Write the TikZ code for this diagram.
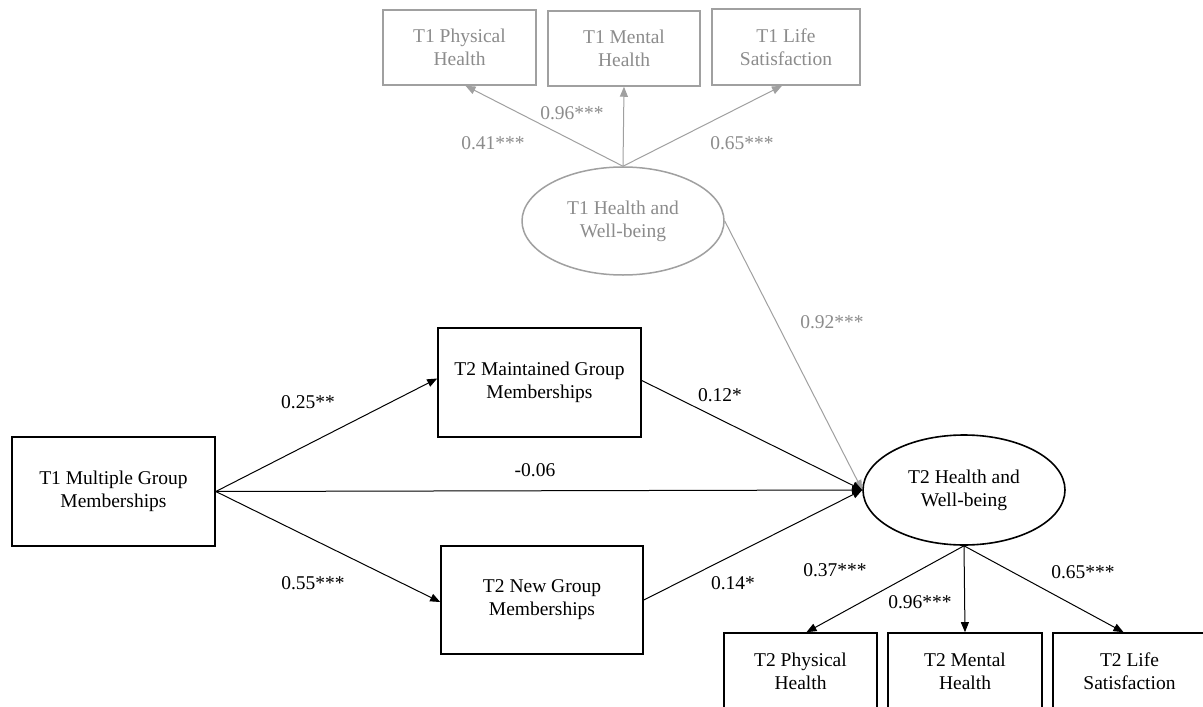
\documentclass[tikz,border=0pt]{standalone}
\usepackage{fontspec}
\setmainfont{Liberation Serif}
\usetikzlibrary{arrows.meta,shapes.geometric}
\definecolor{lgray}{HTML}{8C8C8C}
\definecolor{lline}{HTML}{A0A0A0}
\tikzset{
  box/.style={draw=black, line width=1.6pt, rectangle, align=center, inner sep=2pt},
  gbox/.style={draw=lline, line width=1.5pt, rectangle, align=center, text=lgray, inner sep=2pt},
  ell/.style={draw=black, line width=1.6pt, ellipse, align=center, inner sep=0pt},
  gell/.style={draw=lline, line width=1.5pt, ellipse, align=center, text=lgray, inner sep=0pt},
  conn/.style={draw=black, line width=1pt, -{Triangle[length=10pt,width=8pt]}},
  gconn/.style={draw=lline, line width=1pt, -{Triangle[length=10pt,width=8pt]}},
  lab/.style={inner sep=0pt, text=black},
  glab/.style={inner sep=0pt, text=lgray},
}
\begin{document}
\begin{tikzpicture}[x=1pt,y=-1pt,font=\fontsize{19.5}{23}\selectfont]
\clip (0,0) rectangle (1203,707);
\fill[white] (0,0) rectangle (1203,707);
% T1 block (gray)
\node[gbox, minimum width=153pt, minimum height=75pt] (p1) at (459.5,47.5) {T1 Physical\\Health};
\node[gbox, minimum width=152pt, minimum height=75pt] (mh1) at (624,48.5) {T1 Mental\\Health};
\node[gbox, minimum width=148pt, minimum height=76pt] (ls1) at (786,47) {T1 Life\\Satisfaction};
\node[gell, minimum width=202pt, minimum height=108pt] (t1) at (623,221) {T1 Health and\\Well-being};
% main nodes
\node[box, minimum width=203pt, minimum height=109pt] (m1) at (113.5,491.5) {T1 Multiple Group\\Memberships};
\node[box, minimum width=203pt, minimum height=109pt] (mg) at (539.5,382.5) {T2 Maintained Group\\Memberships};
\node[box, minimum width=202pt, minimum height=108pt] (ng) at (542,600) {T2 New Group\\Memberships};
\node[ell, minimum width=202pt, minimum height=110pt] (t2) at (964,490) {T2 Health and\\Well-being};
\node[box, minimum width=153pt, minimum height=76pt] (p2) at (800.5,671) {T2 Physical\\Health};
\node[box, minimum width=154pt, minimum height=76pt] (mh2) at (965,671) {T2 Mental\\Health};
\node[box, minimum width=153pt, minimum height=76pt] (ls2) at (1129.5,671) {T2 Life\\Satisfaction};
% gray connectors
\draw[gconn] (t1.north) -- ([xshift=6pt]p1.south);
\draw[gconn] (t1.north) -- (mh1.south);
\draw[gconn] (t1.north) -- ([xshift=-4pt]ls1.south);
\draw[gconn] (t1.east) -- (t2.west);
% black connectors
\draw[conn] (m1.east) -- ([yshift=4pt]mg.west);
\draw[conn] (m1.east) -- ([yshift=-2pt]ng.west);
\draw[conn] (m1.east) -- (t2.west);
\draw[conn] ([yshift=2pt]mg.east) -- (t2.west);
\draw[conn] (ng.east) -- (t2.west);
\draw[conn] (t2.south) -- ([xshift=6pt]p2.north);
\draw[conn] (t2.south) -- (mh2.north);
\draw[conn] (t2.south) -- ([xshift=-6pt]ls2.north);
% gray labels
\node[glab] (l41) at (493,143) {0.41***};
\node[glab] (l96a) at (572,113) {0.96***};
\node[glab] (l65a) at (742,143) {0.65***};
\node[glab] (l92) at (832,322) {0.92***};
% black labels
\node[lab] (l25) at (308,402) {0.25**};
\node[lab] (l55) at (313,583) {0.55***};
\node[lab] (l06) at (535,470) {-0.06};
\node[lab] (l12) at (720,395) {0.12*};
\node[lab] (l14) at (733,583) {0.14*};
\node[lab] (l37) at (835,570) {0.37***};
\node[lab] (l96b) at (920,602) {0.96***};
\node[lab] (l65b) at (1083,572) {0.65***};
\end{tikzpicture}
\end{document}
